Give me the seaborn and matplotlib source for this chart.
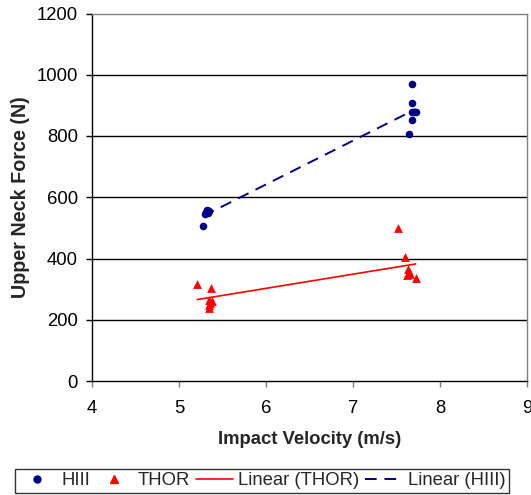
import matplotlib
matplotlib.use("Agg")
import matplotlib.pyplot as plt
import seaborn as sns
import pandas as pd
import numpy as np
from matplotlib.lines import Line2D

sns.set_theme(style="white")
plt.rcParams['font.family'] = ['Liberation Sans', 'DejaVu Sans']

hiii_velocity = [5.28, 5.30, 5.32, 5.35, 5.33, 5.31, 7.64, 7.68, 7.68, 7.70, 7.72, 7.68, 7.68]
hiii_force = [505, 545, 560, 555, 548, 552, 808, 851, 878, 880, 880, 907, 971]
thor_velocity = [5.21, 5.37, 5.35, 5.36, 5.34, 5.35, 5.38, 7.52, 7.60, 7.63, 7.64, 7.62, 7.65, 7.72]
thor_force = [316, 305, 265, 255, 248, 240, 262, 501, 405, 365, 355, 345, 350, 335]

xticks = [4, 5, 6, 7, 8, 9]
yticks = [0, 200, 400, 600, 800, 1000, 1200]

navy = "#000080"
red = "#FF0000"

df_h = pd.DataFrame({"v": hiii_velocity, "f": hiii_force})
df_t = pd.DataFrame({"v": thor_velocity, "f": thor_force})

fig = plt.figure(figsize=(5.31, 4.95), dpi=100)
ax = fig.add_axes([92/531, 1 - 381/495, (527 - 92)/531, (381 - 13.5)/495])

for y in yticks[1:-1]:
    ax.axhline(y, color="black", lw=1.0, zorder=0)

sns.regplot(data=df_t, x="v", y="f", scatter=False, ci=None, ax=ax,
            line_kws=dict(color=red, lw=1.2))
sns.regplot(data=df_h, x="v", y="f", scatter=False, ci=None, ax=ax,
            line_kws=dict(color=navy, lw=1.4, dashes=(6, 4)))
sns.scatterplot(data=df_h, x="v", y="f", ax=ax, color=navy, marker="o", s=30,
                edgecolor=navy, linewidth=0, zorder=3)
sns.scatterplot(data=df_t, x="v", y="f", ax=ax, color=red, marker="^", s=40,
                edgecolor=red, linewidth=0, zorder=3)

ax.set_xlim(4, 9)
ax.set_ylim(0, 1200)
ax.set_xticks(xticks)
ax.set_yticks(yticks)
ax.tick_params(axis="both", direction="out", length=4, width=1,
               labelsize=13.3, left=True, bottom=True)
ax.tick_params(axis="y", color="black", labelcolor="black", pad=6)
ax.tick_params(axis="x", color="#808080", labelcolor="black", pad=10)
ax.set_xlabel("Impact Velocity (m/s)", fontsize=13.3, fontweight="bold", labelpad=10)
ax.set_ylabel("Upper Neck Force (N)", fontsize=14.2, fontweight="bold", labelpad=5)

for side in ["top", "right"]:
    ax.spines[side].set_visible(True)
    ax.spines[side].set_color("#808080")
    ax.spines[side].set_linewidth(1.0)
for side in ["left", "bottom"]:
    ax.spines[side].set_visible(True)
    ax.spines[side].set_color("black")
    ax.spines[side].set_linewidth(1.0)

handles = [
    Line2D([], [], color=navy, marker="o", linestyle="none", markersize=5),
    Line2D([], [], color=red, marker="^", linestyle="none", markersize=6),
    Line2D([], [], color=red, lw=1.2),
    Line2D([], [], color=navy, lw=1.4, dashes=(6, 4)),
]
labels = ["HIII", "THOR", "Linear (THOR)", "Linear (HIII)"]
leg = fig.legend(handles, labels, loc="lower center", bbox_to_anchor=(262/531, 2/495),
                 ncol=4, frameon=True, fontsize=13.3, fancybox=False, edgecolor="black",
                 handlelength=2.0, handletextpad=0.3, columnspacing=0.3, borderpad=0.2,
                 borderaxespad=0.0)
leg.get_frame().set_linewidth(1.0)

fig.savefig("out.png", dpi=100)
